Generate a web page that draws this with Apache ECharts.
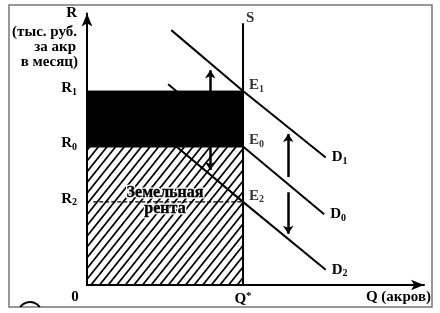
<!DOCTYPE html>
<html><head><meta charset="utf-8">
<script src="https://cdn.jsdelivr.net/npm/echarts@6/dist/echarts.min.js"></script>
<style>html,body{margin:0;padding:0;background:#fff}#c{width:440px;height:313px}</style>
</head><body><div id="c"></div>
<script>
// ---- data (Q in acres-units, R in rent-units) ----
const Qstar = 10;
const R1 = 7, R0 = 5, R2 = 3;
const rTicks = {7: '1', 5: '0', 3: '2'};          // R tick subscripts
const D1 = [[5.4, 9.2], [10, 7], [15.3, 4.6]];
const D0 = [[5.2, 7.25], [10, 5], [15.2, 2.55]];
const D2 = [[5.3, 5.2], [10, 3], [15.3, 0.55]];
const S = [[10, 0], [10, 9.45]];
const gainRect = [[0, R0, Qstar, R1]];            // black area
const rentRect = [[0, 0, Qstar, R0]];             // hatched area
const R2line = [[0.4, R2], [Qstar, R2]];
const arrows = [
  [[7.9, 7.0], [7.9, 7.75]],
  [[7.9, 5.0], [7.9, 4.15]],
  [[12.9, 3.9], [12.9, 5.45]],
  [[12.9, 3.35], [12.9, 1.85]]
];
const ePoints = [[10, 7, '1'], [10, 5, '0'], [10, 3, '2']];
const rentText = 'Земельная\nрента';

const FONT = 'Liberation Serif';
const FS = 15;
const rich = {
  b: {fontFamily: FONT, fontWeight: 'bold', fontSize: FS, color: '#000'},
  s: {fontFamily: FONT, fontWeight: 'bold', fontSize: 10, color: '#000', padding: [8, 0, 0, 0]},
  u: {fontFamily: FONT, fontWeight: 'bold', fontSize: 11, color: '#000', padding: [0, 0, 5, 0]}
};
const gfont = 'bold ' + FS + 'px "Liberation Serif"';

function rectItem(fillHatch) {
  return function (params, api) {
    const p0 = api.coord([api.value(0), api.value(1)]);
    const p1 = api.coord([api.value(2), api.value(3)]);
    const xl = p0[0], xr = p1[0], yb = p0[1], yt = p1[1];
    const h = yb - yt;
    const children = [{
      type: 'rect',
      shape: {x: xl, y: yt, width: xr - xl, height: h},
      style: {fill: fillHatch ? '#fff' : '#000', stroke: '#000', lineWidth: fillHatch ? 2 : 1}
    }];
    if (fillHatch) {
      const k = 0.8, step = 8.6;
      for (let c = xl - k * h + 3; c < xr; c += step) {
        let sx = c, sy = yb;
        if (c < xl) { sx = xl; sy = yb - (xl - c) / k; }
        let ex = c + k * h, ey = yt;
        if (ex > xr) { ex = xr; ey = yb - (xr - c) / k; }
        if (ex <= sx) continue;
        children.push({type: 'line', shape: {x1: sx, y1: sy, x2: ex, y2: ey},
          style: {stroke: '#000', lineWidth: 1.8}});
      }
    }
    return {type: 'group', children};
  };
}

function dLine(name, data, sub) {
  return {
    type: 'line', name, data, symbol: 'none', z: 5,
    lineStyle: {color: '#000', width: 2},
    endLabel: {show: true, distance: 6, formatter: '{b|D}{s|' + sub + '}', rich}
  };
}

function rentTextItem(params, api) {
  const p = api.coord([api.value(0), api.value(1)]);
  const base = {text: rentText, x: p[0], y: p[1] - 1, align: 'center', verticalAlign: 'middle',
    font: 'bold 16px "Liberation Serif"', lineHeight: 16};
  return {type: 'group', children: [
    {type: 'text', z2: 1, style: Object.assign({}, base, {fill: '#fff', stroke: '#fff', lineWidth: 3})},
    {type: 'text', z2: 2, style: Object.assign({}, base, {fill: '#000', stroke: '#000', lineWidth: 0.4})}
  ]};
}

const chart = echarts.init(document.getElementById('c'), null, {renderer: 'canvas'});
chart.setOption({
  animation: false,
  grid: {left: 87, right: 16, top: 13.5, bottom: 28},
  xAxis: {
    type: 'value', min: 0, max: 21.6, interval: 1,
    axisLine: {lineStyle: {color: '#000', width: 2}, symbol: ['none', 'arrow'], symbolSize: [8, 13]},
    axisTick: {show: false}, splitLine: {show: false},
    axisLabel: {margin: 6, formatter: v => v === Qstar ? '{b|Q}{u|*}' : '', rich}
  },
  yAxis: {
    type: 'value', min: 0, max: 9.8, interval: 1,
    axisLine: {lineStyle: {color: '#000', width: 2}, symbol: ['none', 'arrow'], symbolSize: [8, 13]},
    axisTick: {show: false}, splitLine: {show: false},
    axisLabel: {margin: 10, formatter: v => rTicks[v] !== undefined ? '{b|R}{s|' + rTicks[v] + '}' : '', rich,
      padding: [0, 0, 6, 0]}
  },
  graphic: [
    {type: 'rect', shape: {x: 9, y: 5, width: 423, height: 302}, style: {fill: 'none', stroke: '#777', lineWidth: 1.5}, z: 0},
    {type: 'text', x: 77, y: 6, style: {text: 'R', align: 'right', font: gfont, fill: '#000'}},
    {type: 'text', x: 77, y: 25, style: {text: '(тыс. руб.', align: 'right', font: gfont, fill: '#000'}},
    {type: 'text', x: 76, y: 40, style: {text: 'за акр', align: 'right', font: gfont, fill: '#000'}},
    {type: 'text', x: 78, y: 55, style: {text: 'в месяц)', align: 'right', font: gfont, fill: '#000'}},
    {type: 'text', x: 431, y: 290, style: {text: 'Q (акров)', align: 'right', font: gfont, fill: '#000'}},
    {type: 'text', x: 75, y: 290, style: {text: '0', align: 'center', font: gfont, fill: '#000'}},
    {type: 'arc', shape: {cx: 30, cy: 314, r: 12, startAngle: Math.PI + 0.62, endAngle: 2 * Math.PI - 0.62},
      style: {stroke: '#000', lineWidth: 2, fill: 'none'}}
  ],
  series: [
    {type: 'custom', data: gainRect, renderItem: rectItem(false), z: 1, silent: true},
    {type: 'custom', data: rentRect, renderItem: rectItem(true), z: 1, silent: true},
    {type: 'line', data: R2line, symbol: 'none', z: 3,
      lineStyle: {color: '#000', width: 1.3, type: [4, 2]}},
    {type: 'custom', data: [[Qstar / 2, R2]], renderItem: rentTextItem, z: 4, silent: true},
    dLine('D1', D1, '1'), dLine('D0', D0, '0'), dLine('D2', D2, '2'),
    {type: 'line', data: S, symbol: 'none', z: 5, lineStyle: {color: '#000', width: 2}},
    {type: 'scatter', data: [S[1]], symbolSize: 0, z: 6,
      label: {show: true, position: 'right', distance: 3, offset: [0, -5], formatter: '{b|S}', rich}},
    {type: 'scatter', data: ePoints, symbolSize: 0, z: 6,
      label: {show: true, position: 'right', distance: 6, offset: [0, -6],
        formatter: p => '{b|E}{s|' + p.value[2] + '}', rich}},
    {type: 'lines', coordinateSystem: 'cartesian2d', z: 6,
      data: arrows.map(a => ({coords: a})),
      symbol: ['none', 'arrow'], symbolSize: 8,
      lineStyle: {color: '#000', width: 2.5, opacity: 1}}
  ]
});
</script></body></html>
